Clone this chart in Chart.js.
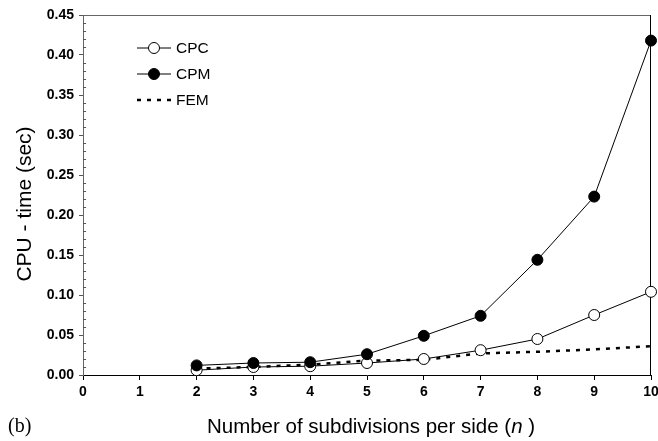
<!DOCTYPE html>
<html lang="en">
<head>
  <meta charset="UTF-8">
  <title>CPU time vs subdivisions</title>
  <script src="https://cdn.jsdelivr.net/npm/chart.js"></script>
  <style>
    html, body { margin: 0; padding: 0; background: #fff; }
    canvas { display: block; }
  </style>
</head>
<body>
  <canvas id="cpuChart" width="658" height="441"></canvas>

  <script>
    // values
    const nValues = [2, 3, 4, 5, 6, 7, 8, 9, 10];
    const cpcTime = [0.006, 0.010, 0.011, 0.015, 0.020, 0.031, 0.045, 0.075, 0.104];
    const cpmTime = [0.012, 0.015, 0.016, 0.026, 0.049, 0.074, 0.144, 0.223, 0.418];
    const femTime = [0.008, 0.010, 0.013, 0.018, 0.019, 0.027, 0.029, 0.032, 0.036];
    const seriesNames = ['CPC', 'CPM', 'FEM'];

    const toPoints = arr => nValues.map((n, i) => ({ x: n, y: arr[i] }));
    const FONT = "'Liberation Sans', Arial, sans-serif";

    // frame, minor ticks, titles and legend
    const decor = {
      id: 'decor',
      beforeDatasetsDraw(chart) {
        const { ctx, chartArea: a } = chart;
        const ys = chart.scales.y;
        ctx.save();
        ctx.lineWidth = 1;
        ctx.strokeStyle = '#666';
        ctx.beginPath();
        ctx.moveTo(a.left, a.top + 0.5);
        ctx.lineTo(a.right, a.top + 0.5);
        ctx.stroke();
        ctx.strokeStyle = '#000';
        ctx.beginPath();
        ctx.moveTo(a.right - 0.5, a.top);
        ctx.lineTo(a.right - 0.5, a.bottom);
        ctx.stroke();
        // minor y ticks every 0.01 (inside)
        ctx.strokeStyle = '#555';
        for (let k = 1; k < 45; k++) {
          if (k % 5 === 0) continue;
          const py = Math.round(ys.getPixelForValue(k / 100)) + 0.5;
          ctx.beginPath();
          ctx.moveTo(a.left, py);
          ctx.lineTo(a.left + 3, py);
          ctx.stroke();
        }
        ctx.restore();
      },
      afterDraw(chart) {
        const { ctx, chartArea: a } = chart;
        ctx.save();
        ctx.fillStyle = '#000';

        // y title
        ctx.save();
        ctx.translate(25, (a.top + a.bottom) / 2 + 9);
        ctx.rotate(-Math.PI / 2);
        ctx.font = '21px ' + FONT;
        ctx.textAlign = 'center';
        ctx.textBaseline = 'middle';
        ctx.fillText('CPU - time (sec)', 0, 0);
        ctx.restore();

        // x title with italic n
        const parts = [
          ['Number of subdivisions per side (', '20.5px ' + FONT],
          ['n', 'italic 20.5px ' + FONT],
          [' )', '20.5px ' + FONT]
        ];
        let total = 0;
        parts.forEach(p => { ctx.font = p[1]; total += ctx.measureText(p[0]).width; });
        let x = (a.left + a.right) / 2 + 4 - total / 2;
        ctx.textBaseline = 'alphabetic';
        ctx.textAlign = 'left';
        parts.forEach(p => { ctx.font = p[1]; ctx.fillText(p[0], x, 433); x += ctx.measureText(p[0]).width; });

        // panel label
        ctx.font = "20px 'Liberation Serif', 'Times New Roman', serif";
        ctx.fillText('(b)', 8, 432);

        // legend
        const legendY = [48, 74, 100];
        chart.data.datasets.forEach((ds, i) => {
          const y = legendY[i];
          ctx.strokeStyle = '#000';
          ctx.lineWidth = ds.borderWidth;
          ctx.setLineDash(ds.borderDash || []);
          ctx.beginPath();
          ctx.moveTo(137, y);
          ctx.lineTo(171, y);
          ctx.stroke();
          ctx.setLineDash([]);
          if (ds.pointRadius > 0) {
            ctx.beginPath();
            ctx.arc(154, y, ds.pointRadius, 0, Math.PI * 2);
            ctx.fillStyle = ds.pointBackgroundColor;
            ctx.fill();
            ctx.lineWidth = 1;
            ctx.stroke();
          }
          ctx.fillStyle = '#000';
          ctx.font = '15.5px ' + FONT;
          ctx.textBaseline = 'middle';
          ctx.fillText(ds.label, 176, y + 1);
        });
        ctx.restore();
      }
    };

    new Chart(document.getElementById('cpuChart'), {
      type: 'line',
      data: {
        datasets: [
          {
            label: seriesNames[0],
            data: toPoints(cpcTime),
            borderColor: '#000',
            borderWidth: 1,
            pointRadius: 5.5,
            pointBackgroundColor: '#fff',
            pointBorderColor: '#000',
            pointBorderWidth: 1,
            clip: false,
            order: 1
          },
          {
            label: seriesNames[1],
            data: toPoints(cpmTime),
            borderColor: '#000',
            borderWidth: 1,
            pointRadius: 5.5,
            pointBackgroundColor: '#000',
            pointBorderColor: '#000',
            pointBorderWidth: 1,
            clip: false,
            order: 0
          },
          {
            label: seriesNames[2],
            data: toPoints(femTime),
            borderColor: '#000',
            borderWidth: 2.5,
            borderDash: [4, 6],
            pointRadius: 0,
            clip: false,
            order: 2
          }
        ]
      },
      options: {
        responsive: false,
        animation: false,
        layout: { padding: { left: 0, right: 7, top: 15, bottom: 0 } },
        plugins: { legend: { display: false }, tooltip: { enabled: false } },
        scales: {
          x: {
            type: 'linear',
            min: 0,
            max: 10,
            ticks: { stepSize: 1, padding: 4, color: '#000', font: { family: FONT, size: 14, weight: 'bold' } },
            grid: { drawOnChartArea: false, tickLength: 5, tickColor: '#000' },
            border: { color: '#000', width: 1 },
            afterFit: s => { s.height = 66; s.paddingLeft = 0; s.paddingRight = 0; }
          },
          y: {
            min: 0,
            max: 0.45,
            ticks: {
              stepSize: 0.05,
              padding: 5,
              color: '#000',
              font: { family: FONT, size: 14, weight: 'bold' },
              callback: v => v.toFixed(2)
            },
            grid: { drawOnChartArea: false, tickLength: 4, tickColor: '#555' },
            border: { color: '#666', width: 1 },
            afterFit: s => { s.width = 83; s.paddingTop = 0; s.paddingBottom = 0; }
          }
        }
      },
      plugins: [decor]
    });
  </script>
</body>
</html>
